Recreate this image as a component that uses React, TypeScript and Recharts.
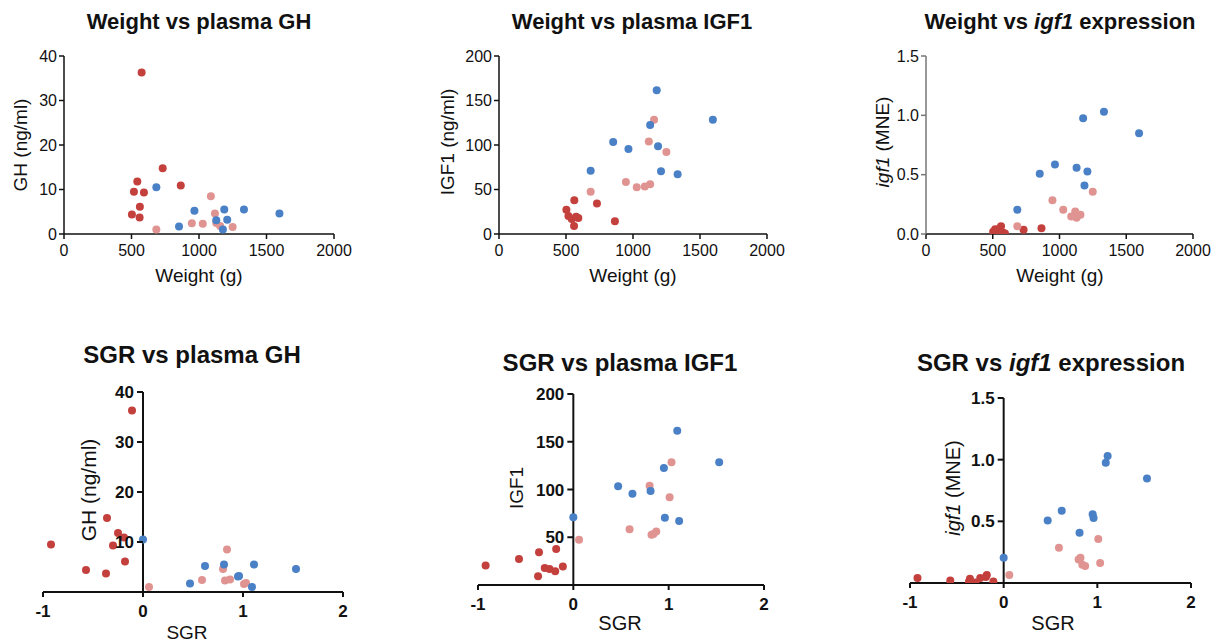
import React from 'react';
import { ScatterChart, Scatter, XAxis, YAxis, ReferenceLine } from 'recharts';

const FONT = '"Liberation Sans", Arial, Helvetica, sans-serif';
const RED = '#c4403d';
const PINK = '#e09492';
const BLUE = '#4a80c5';
const INK = '#111';

// dark red group
const redWeight = [575, 543, 518, 592, 731, 865, 562, 503, 560];
const redSgr = [-0.11, -0.25, -0.92, -0.3, -0.36, -0.19, -0.18, -0.57, -0.37];
const redGh = [36.3, 11.8, 9.5, 9.3, 14.8, 10.9, 6.1, 4.4, 3.7];
const redIgf1 = [19.3, 16.8, 20.3, 17.9, 34.3, 14.4, 37.8, 27.3, 9.1];
const redExpr = [0.013, 0.04, 0.04, 0.005, 0.035, 0.048, 0.065, 0.02, 0.013];

// pink group
const pinkWeight = [684, 947, 1028, 1088, 1118, 1128, 1157, 1249];
const pinkSgr = [0.06, 0.59, 0.82, 0.84, 0.8, 0.87, 1.03, 1.01];
const pinkGh = [1.0, 2.4, 2.3, 8.5, 4.6, 2.5, 1.8, 1.6];
const pinkIgf1 = [47.5, 58.5, 52.5, 53.5, 104, 56, 128.5, 92];
const pinkExpr = [0.065, 0.285, 0.205, 0.148, 0.19, 0.137, 0.162, 0.357];

// blue group
const blueWeight = [684, 852, 966, 1187, 1128, 1209, 1177, 1333, 1596];
const blueSgr = [0.0, 0.47, 0.62, 0.81, 0.95, 0.96, 1.09, 1.11, 1.53];
const blueGh = [10.5, 1.7, 5.2, 5.5, 3.1, 3.2, 1.0, 5.5, 4.6];
const blueIgf1 = [71, 103.5, 95.5, 98.5, 122.5, 70.5, 161.5, 67, 128.5];
const blueExpr = [0.205, 0.507, 0.585, 0.408, 0.558, 0.527, 0.975, 1.03, 0.848];

const weightTicks = [0, 500, 1000, 1500, 2000];
const sgrTicks = [-1, 0, 1, 2];
const ghTicks = [0, 10, 20, 30, 40];
const igfTicks = [0, 50, 100, 150, 200];
const exprTicks = [0, 0.5, 1.0, 1.5];

function makeGroup(w: number[], s: number[], g: number[], i: number[], e: number[]) {
  return w.map((_, k) => ({ weight: w[k], sgr: s[k], gh: g[k], igf1: i[k], expr: e[k] }));
}

const groups = [
  { color: RED, data: makeGroup(redWeight, redSgr, redGh, redIgf1, redExpr) },
  { color: PINK, data: makeGroup(pinkWeight, pinkSgr, pinkGh, pinkIgf1, pinkExpr) },
  { color: BLUE, data: makeGroup(blueWeight, blueSgr, blueGh, blueIgf1, blueExpr) },
];

const dot = (color: string) => (p: any) => <circle cx={p.cx} cy={p.cy} r={4} fill={color} />;

const shiftedTick = (shift: number, fmt: (v: number) => string) => (p: any) => {
  const ax = p.x + shift;
  return (
    <g>
      <line x1={ax - 6} x2={ax} y1={p.y} y2={p.y} stroke={INK} strokeWidth={2} />
      <text x={ax - 9} y={p.y} dy="0.36em" textAnchor="end" fontSize={17} fontWeight="bold" fill={INK} fontFamily={FONT}>
        {fmt(p.payload.value)}
      </text>
    </g>
  );
};

type Box = { x0: number; x1: number; y0: number; y1: number };

function Panel(props: {
  box: Box;
  xKey: string;
  yKey: string;
  xDomain: [number, number];
  yDomain: [number, number];
  xTicks: number[];
  yTicks: number[];
  yFmt?: (v: number) => string;
  bottom?: boolean;
  yStroke?: string;
}) {
  const { box, xKey, yKey, xDomain, yDomain, xTicks, yTicks, bottom } = props;
  const yFmt = props.yFmt || ((v: number) => String(v));
  const yW = 60, mT = 14, mR = 26, xH = 40;
  const width = box.x1 - box.x0 + yW + mR;
  const height = box.y1 - box.y0 + mT + xH;
  const shift = ((0 - xDomain[0]) / (xDomain[1] - xDomain[0])) * (box.x1 - box.x0);
  const sw = bottom ? 2 : 1.5;

  return (
    <div style={{ position: 'absolute', left: box.x0 - yW, top: box.y0 - mT }}>
      <ScatterChart width={width} height={height} margin={{ top: mT, right: mR, bottom: 0, left: 0 }}>
        <XAxis
          type="number"
          dataKey={xKey}
          domain={xDomain}
          ticks={xTicks}
          interval={0}
          allowDataOverflow
          height={xH}
          axisLine={{ stroke: INK, strokeWidth: sw }}
          tickLine={{ stroke: INK, strokeWidth: sw }}
          tickSize={5}
          tickMargin={bottom ? 8 : 6}
          tick={{ fontSize: bottom ? 17 : 16, fill: INK, fontFamily: FONT, fontWeight: bottom ? 'bold' : 'normal' }}
        />
        {bottom ? (
          <YAxis
            type="number"
            dataKey={yKey}
            domain={yDomain}
            ticks={yTicks}
            interval={0}
            allowDataOverflow
            width={yW}
            axisLine={false}
            tickLine={false}
            tickSize={0}
            tickMargin={0}
            tick={shiftedTick(shift, yFmt)}
          />
        ) : (
          <YAxis
            type="number"
            dataKey={yKey}
            domain={yDomain}
            ticks={yTicks}
            interval={0}
            allowDataOverflow
            width={yW}
            axisLine={{ stroke: props.yStroke || INK, strokeWidth: sw }}
            tickLine={{ stroke: props.yStroke || INK, strokeWidth: sw }}
            tickSize={5}
            tickMargin={2}
            tickFormatter={yFmt}
            tick={{ fontSize: 16, fill: INK, fontFamily: FONT }}
          />
        )}
        {bottom && <ReferenceLine x={0} stroke={INK} strokeWidth={2} />}
        {groups.map((g, i) => (
          <Scatter key={i} data={g.data} fill={g.color} shape={dot(g.color)} isAnimationActive={false} />
        ))}
      </ScatterChart>
    </div>
  );
}

function Text(props: { x: number; y: number; size: number; bold?: boolean; rotate?: boolean; children: React.ReactNode }) {
  return (
    <div
      style={{
        position: 'absolute',
        left: props.x,
        top: props.y,
        transform: `translate(-50%, -50%)${props.rotate ? ' rotate(-90deg)' : ''}`,
        fontSize: props.size,
        fontWeight: props.bold ? 'bold' : 'normal',
        whiteSpace: 'nowrap',
        color: INK,
        lineHeight: 1,
      }}
    >
      {props.children}
    </div>
  );
}

const fmt1 = (v: number) => v.toFixed(1);

export default function App() {
  return (
    <div style={{ position: 'absolute', left: 0, top: 0, width: 1223, height: 643, background: '#fff', fontFamily: FONT, overflow: 'hidden' }}>
      {/* top row */}
      <Panel box={{ x0: 64, x1: 334, y0: 56, y1: 234 }} xKey="weight" yKey="gh" xDomain={[0, 2000]} yDomain={[0, 40]} xTicks={weightTicks} yTicks={ghTicks} />
      <Panel box={{ x0: 499, x1: 767, y0: 56, y1: 234 }} xKey="weight" yKey="igf1" xDomain={[0, 2000]} yDomain={[0, 200]} xTicks={weightTicks} yTicks={igfTicks} />
      <Panel box={{ x0: 926, x1: 1193, y0: 56, y1: 234 }} xKey="weight" yKey="expr" xDomain={[0, 2000]} yDomain={[0, 1.5]} xTicks={weightTicks} yTicks={exprTicks} yFmt={fmt1} yStroke="#777" />

      {/* bottom row */}
      <Panel box={{ x0: 43, x1: 343, y0: 392, y1: 592 }} xKey="sgr" yKey="gh" xDomain={[-1, 2]} yDomain={[0, 40]} xTicks={sgrTicks} yTicks={ghTicks.slice(1)} bottom />
      <Panel box={{ x0: 478, x1: 764, y0: 394, y1: 585 }} xKey="sgr" yKey="igf1" xDomain={[-1, 2]} yDomain={[0, 200]} xTicks={sgrTicks} yTicks={igfTicks.slice(1)} bottom />
      <Panel box={{ x0: 910, x1: 1191, y0: 398, y1: 583 }} xKey="sgr" yKey="expr" xDomain={[-1, 2]} yDomain={[0, 1.5]} xTicks={sgrTicks} yTicks={exprTicks.slice(1)} yFmt={fmt1} bottom />

      {/* titles */}
      <Text x={199} y={22} size={22} bold>Weight vs plasma GH</Text>
      <Text x={632} y={22} size={22} bold>Weight vs plasma IGF1</Text>
      <Text x={1060} y={22} size={22} bold>Weight vs <i>igf1</i> expression</Text>
      <Text x={192} y={355} size={24} bold>SGR vs plasma GH</Text>
      <Text x={620} y={363} size={24} bold>SGR vs plasma IGF1</Text>
      <Text x={1051} y={363} size={24} bold>SGR vs <i>igf1</i> expression</Text>

      {/* axis labels */}
      <Text x={199} y={275} size={19}>Weight (g)</Text>
      <Text x={633} y={275} size={19}>Weight (g)</Text>
      <Text x={1060} y={275} size={19}>Weight (g)</Text>
      <Text x={20} y={145} size={19} rotate>GH (ng/ml)</Text>
      <Text x={447} y={142} size={19} rotate>IGF1 (ng/ml)</Text>
      <Text x={882} y={142} size={19} rotate><i>igf1</i> (MNE)</Text>

      <Text x={187} y={632} size={19}>SGR</Text>
      <Text x={620} y={623} size={20}>SGR</Text>
      <Text x={1053} y={623} size={20}>SGR</Text>
      <Text x={88} y={490} size={21} rotate>GH (ng/ml)</Text>
      <Text x={516} y={488} size={19} rotate>IGF1</Text>
      <Text x={953} y={488} size={20} rotate><i>igf1</i> (MNE)</Text>
    </div>
  );
}
